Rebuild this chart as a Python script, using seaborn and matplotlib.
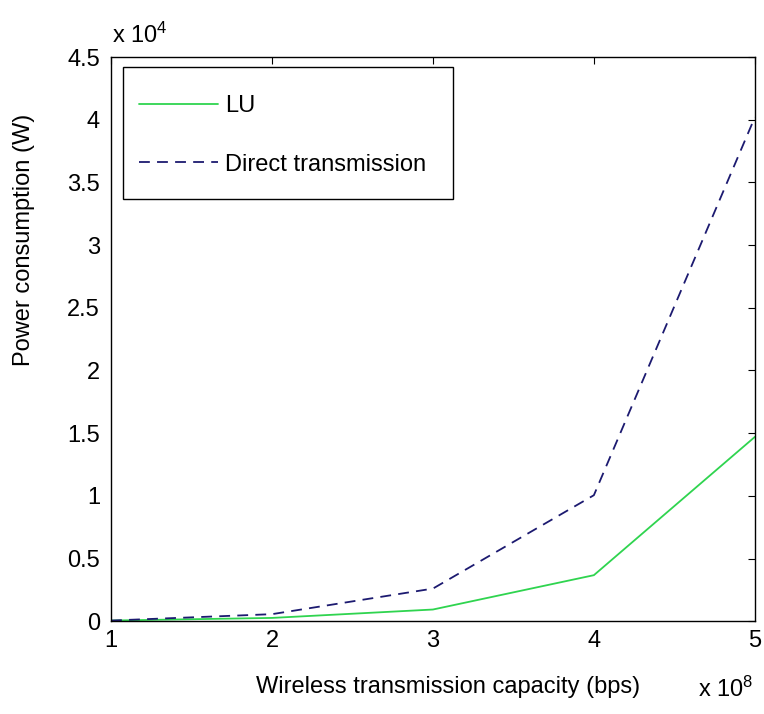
import matplotlib
matplotlib.use("Agg")
import matplotlib.pyplot as plt
import seaborn as sns
import pandas as pd
from matplotlib.patches import Rectangle

capacity = [1, 2, 3, 4, 5]            # x 10^8 bps
lu_power = [0.005, 0.026, 0.093, 0.367, 1.47]       # x 10^4 W
direct_power = [0.005, 0.056, 0.26, 1.005, 4.02]    # x 10^4 W
series_names = ["LU", "Direct transmission"]
y_ticks = [0, 0.5, 1, 1.5, 2, 2.5, 3, 3.5, 4, 4.5]
y_tick_labels = ["0", "0.5", "1", "1.5", "2", "2.5", "3", "3.5", "4", "4.5"]
x_ticks = [1, 2, 3, 4, 5]

sns.set_style("white")
plt.rcParams["font.family"] = ["Liberation Sans", "DejaVu Sans"]
plt.rcParams["text.color"] = "black"
plt.rcParams["axes.labelcolor"] = "black"
plt.rcParams["mathtext.fontset"] = "custom"
plt.rcParams["mathtext.rm"] = "Liberation Sans"
plt.rcParams["mathtext.it"] = "Liberation Sans"
plt.rcParams["mathtext.bf"] = "Liberation Sans"

df = pd.DataFrame({
    "x": capacity * 2,
    "y": lu_power + direct_power,
    "series": [series_names[0]] * 5 + [series_names[1]] * 5,
})

fig = plt.figure(figsize=(7.64, 7.14), dpi=100)
ax = fig.add_axes([0.1453, 0.130, 0.8427, 0.790])

sns.lineplot(data=df[df.series == series_names[0]], x="x", y="y", ax=ax,
             color="#2fd44f", lw=1.3, label=series_names[0])
sns.lineplot(data=df[df.series == series_names[1]], x="x", y="y", ax=ax,
             color="#1c1a70", lw=1.3, label=series_names[1],
             linestyle=(0, (6, 4)))

ax.set_xlim(1, 5)
ax.set_ylim(0, 4.5)
ax.set_xticks(x_ticks)
ax.set_xticklabels([str(v) for v in x_ticks])
ax.set_yticks(y_ticks)
ax.set_yticklabels(y_tick_labels)
ax.tick_params(direction="in", length=5, width=0.8, top=True, right=True,
               labelsize=17, colors="black")
ax.tick_params(axis="x", pad=6)
ax.tick_params(axis="y", pad=8)
for s in ax.spines.values():
    s.set_visible(True)
    s.set_color("black")
    s.set_linewidth(1.0)

ax.set_xlabel("")
ax.set_ylabel("")
fig.text(0.587, 0.029, "Wireless transmission capacity (bps)", fontsize=17,
         ha="center", va="baseline")
fig.text(0.031, 0.664, "Power consumption (W)", fontsize=17, rotation=90,
         ha="center", va="center")

fig.text(0.146, 0.94, r"x 10$^{4}$", fontsize=17, ha="left", va="baseline")
fig.text(0.914, 0.024, r"x 10$^{8}$", fontsize=17, ha="left", va="baseline")

# legend frame
ax.add_patch(Rectangle((0.0186, 0.748), 0.5125, 0.234, transform=ax.transAxes,
                       facecolor="white", edgecolor="black", lw=1.0, zorder=4))
leg = ax.legend(loc="upper left", bbox_to_anchor=(0.0435, 0.933), fontsize=17,
                frameon=False, handlelength=3.35, handletextpad=0.3,
                labelspacing=1.55, borderpad=0, borderaxespad=0)
leg.set_zorder(5)
for t in leg.get_texts():
    t.set_color("black")

fig.savefig("out.png", dpi=100)
